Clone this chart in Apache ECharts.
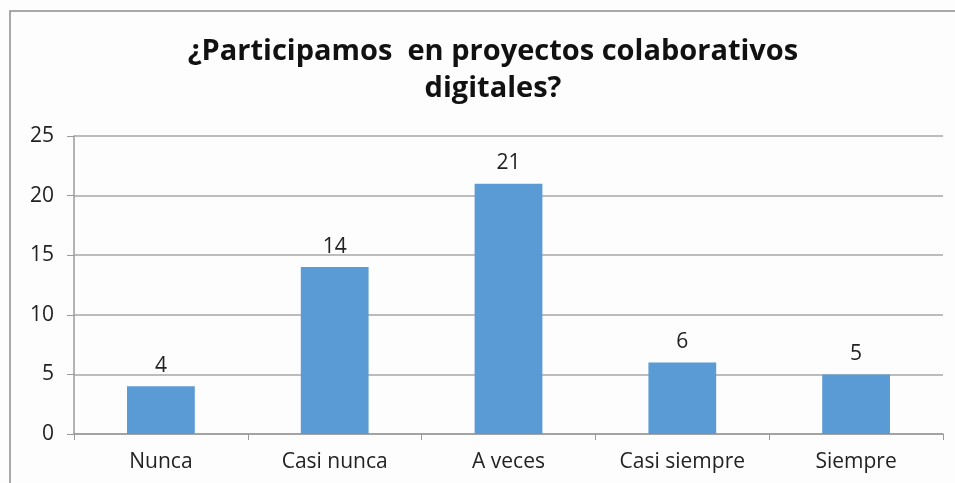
<!doctype html>
<html>
	<head>
		<meta charset="UTF-8">
		<title>Proyectos colaborativos</title>
		<script src="https://cdn.jsdelivr.net/npm/echarts@6/dist/echarts.min.js"></script>
		<style type="text/css">
			html,body{margin:0;padding:0;background:#fdfdfd;}
			#main{width:955px;height:483px;}
		</style>
	</head>
	<body>
		<div id="main"></div>
		<script type="text/javascript">
			// datos de la encuesta
			var categorias = ['Nunca', 'Casi nunca', 'A veces', 'Casi siempre', 'Siempre'];
			var respuestas = [4, 14, 21, 6, 5];
			var titulo = '¿Participamos  en proyectos colaborativos\ndigitales?';

			var myChart = echarts.init(document.getElementById('main'));
			var option = {
				backgroundColor: '#fdfdfd',
				animation: false,
				title: {
					text: titulo,
					left: 488,
					top: 28,
					textAlign: 'center',
					textStyle: {
						fontFamily: 'Open Sans',
						fontWeight: 'bold',
						fontSize: 29,
						lineHeight: 37,
						color: '#111'
					}
				},
				// marco del gráfico
				graphic: [{
					type: 'polyline',
					shape: { points: [[10, 483], [10, 11], [955, 11]] },
					style: { stroke: '#8c8c8c', lineWidth: 1.5, fill: null }
				}],
				grid: { left: 74, right: 12, top: 136, bottom: 49, containLabel: false },
				xAxis: {
					type: 'category',
					data: categorias,
					axisLine: { lineStyle: { color: '#9a9a9a', width: 1.5 } },
					axisTick: { show: true, length: 6, lineStyle: { color: '#9a9a9a' } },
					axisLabel: { fontFamily: 'Open Sans', fontSize: 21, color: '#222', margin: 18 }
				},
				yAxis: {
					type: 'value',
					min: 0,
					max: 25,
					interval: 5,
					axisLine: { show: true, lineStyle: { color: '#9a9a9a', width: 1.5 } },
					axisTick: { show: true, length: 7, lineStyle: { color: '#9a9a9a' } },
					splitLine: { lineStyle: { color: '#a6a6a6', width: 1.5 } },
					axisLabel: { fontFamily: 'Open Sans', fontSize: 21, color: '#222', margin: 20 }
				},
				series: [{
					type: 'bar',
					data: respuestas,
					barWidth: '39%',
					itemStyle: { color: '#5b9bd5' },
					label: {
						show: true,
						position: 'top',
						distance: 10,
						fontFamily: 'Open Sans',
						fontSize: 21,
						color: '#222'
					}
				}]
			};
			myChart.setOption(option);
		</script>
	</body>
</html>
